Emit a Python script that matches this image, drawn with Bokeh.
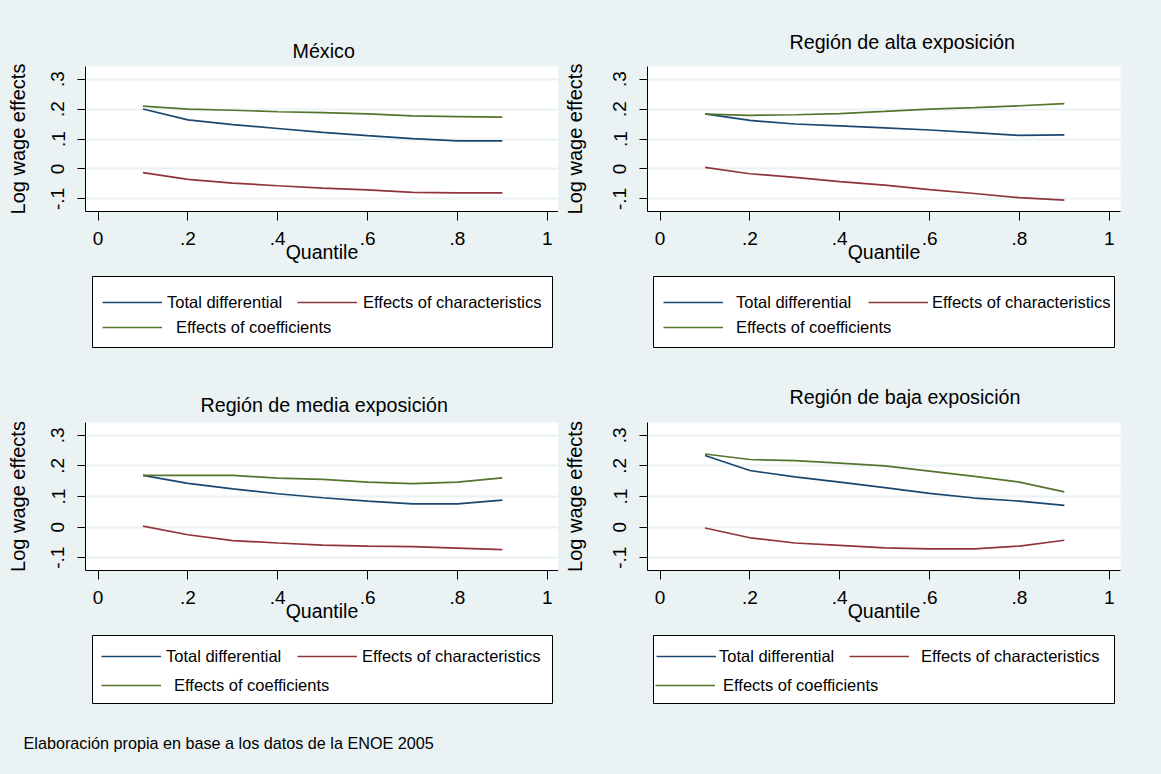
from bokeh.core.properties import value
from bokeh.embed import file_html
from bokeh.layouts import column, row
from bokeh.models import CustomJSTickFormatter, FixedTicker, Label, Legend, LegendItem, Range1d
from bokeh.plotting import figure
from bokeh.resources import INLINE

# Oaxaca-style quantile decomposition
quantiles = [0.1, 0.2, 0.3, 0.4, 0.5, 0.6, 0.7, 0.8, 0.9]

mexico_total = [0.200, 0.164, 0.148, 0.135, 0.122, 0.111, 0.101, 0.094, 0.094]
mexico_chars = [-0.012, -0.035, -0.047, -0.056, -0.064, -0.070, -0.078, -0.080, -0.080]
mexico_coefs = [0.210, 0.200, 0.196, 0.191, 0.188, 0.184, 0.177, 0.175, 0.173]

alta_total = [0.184, 0.162, 0.150, 0.144, 0.137, 0.130, 0.121, 0.112, 0.114]
alta_chars = [0.005, -0.016, -0.028, -0.042, -0.054, -0.069, -0.082, -0.096, -0.104]
alta_coefs = [0.183, 0.179, 0.181, 0.185, 0.192, 0.200, 0.205, 0.211, 0.218]

media_total = [0.169, 0.143, 0.125, 0.109, 0.096, 0.085, 0.076, 0.076, 0.088]
media_chars = [0.003, -0.025, -0.044, -0.052, -0.059, -0.062, -0.064, -0.069, -0.074]
media_coefs = [0.169, 0.169, 0.169, 0.160, 0.156, 0.147, 0.142, 0.147, 0.161]

baja_total = [0.234, 0.185, 0.164, 0.147, 0.129, 0.110, 0.095, 0.085, 0.071]
baja_chars = [-0.003, -0.035, -0.052, -0.060, -0.068, -0.071, -0.071, -0.062, -0.043]
baja_coefs = [0.239, 0.221, 0.217, 0.209, 0.200, 0.183, 0.166, 0.147, 0.115]

titles = ["México", "Región de alta exposición", "Región de media exposición", "Región de baja  exposición"]
series_labels = ["Total differential", "Effects of characteristics", "Effects of coefficients"]
x_ticks = [0, 0.2, 0.4, 0.6, 0.8, 1]
y_ticks = [-0.1, 0, 0.1, 0.2, 0.3]
footnote = "Elaboración propia en base a los datos de la ENOE 2005"

BG = "#eaf2f3"
COLORS = ["#1a476f", "#90353b", "#55752f"]
FONT = "Liberation Sans"

# stata style labels: .2 instead of 0.2
fmt_code = """
const s = (Math.round(tick * 10) / 10).toString();
return s.replace("0.", ".");
"""


def panel(title, series, width, height, borders, title_standoff, title_offset, ylabel_standoff):
    left, right, top, bottom = borders
    p = figure(width=width, height=height, title=title,
               x_range=Range1d(-0.028, 1.025), y_range=Range1d(-0.142, 0.342),
               min_border_left=left, min_border_right=right,
               min_border_top=top, min_border_bottom=bottom,
               output_backend="svg", toolbar_location=None)
    p.background_fill_color = "white"
    p.border_fill_color = BG
    p.outline_line_color = None

    p.title.align = "left"
    p.title.offset = title_offset
    p.title.standoff = title_standoff
    p.title.text_font = FONT
    p.title.text_font_size = "19.7px"
    p.title.text_font_style = "normal"
    p.title.text_color = "black"

    for ys, color in zip(series, COLORS):
        p.line(quantiles, ys, line_color=color, line_width=1.7)

    p.xgrid.visible = False
    p.ygrid.grid_line_color = BG
    p.ygrid.grid_line_width = 2

    for ax, ticks in ((p.xaxis[0], x_ticks), (p.yaxis[0], y_ticks)):
        ax.ticker = FixedTicker(ticks=ticks)
        ax.formatter = CustomJSTickFormatter(code=fmt_code)
        ax.axis_line_color = "black"
        ax.major_tick_line_color = "black"
        ax.major_tick_in = 0
        ax.minor_tick_line_color = None
        ax.major_label_text_font = FONT
        ax.major_label_text_color = "black"
        ax.major_label_text_font_size = "19px"
        ax.axis_label_text_font = FONT
        ax.axis_label_text_font_style = "normal"
        ax.axis_label_text_color = "black"

    p.xaxis.axis_label = "Quantile"
    p.xaxis.major_tick_out = 9
    p.xaxis.major_label_standoff = 11
    p.xaxis.axis_label_text_font_size = "19.5px"
    p.xaxis.axis_label_standoff = -7

    p.yaxis.axis_label = "Log wage effects"
    p.yaxis.major_tick_out = 8
    p.yaxis.major_label_orientation = "vertical"
    p.yaxis.major_label_standoff = 13
    p.yaxis.axis_label_text_font_size = "20px"
    p.yaxis.axis_label_standoff = ylabel_standoff
    return p


def legend_box(width, height, borders, series, items):
    left, right, top, bottom = borders
    # the frame is the legend's white box; the lines sit outside its ranges
    lf = figure(width=width, height=height, x_range=Range1d(10, 11), y_range=Range1d(10, 11),
                x_axis_type=None, y_axis_type=None,
                min_border_left=left, min_border_right=right,
                min_border_top=top, min_border_bottom=bottom,
                output_backend="svg", toolbar_location=None)
    lf.background_fill_color = "white"
    lf.border_fill_color = BG
    lf.outline_line_color = "black"
    lf.outline_line_width = 1
    for ys, label, color, (vx, vy, standoff) in zip(series, series_labels, COLORS, items):
        r = lf.line(quantiles, ys, line_color=color, line_width=1.7)
        lg = Legend(items=[LegendItem(label=value(label), renderers=[r])], location=(vx, vy),
                    glyph_width=60, glyph_height=20, label_height=20, label_standoff=standoff,
                    padding=0, margin=0, spacing=0,
                    border_line_color=None, background_fill_alpha=0,
                    label_text_font=FONT, label_text_font_size="16.5px", label_text_color="black")
        lf.add_layout(lg)
    return lf


mex = [mexico_total, mexico_chars, mexico_coefs]
alta = [alta_total, alta_chars, alta_coefs]
media = [media_total, media_chars, media_coefs]
baja = [baja_total, baja_chars, baja_coefs]

p_mex = panel(titles[0], mex, 558, 266, (85, 0, 66, 55), 9, 207, 20)
p_alta = panel(titles[1], alta, 603, 266, (89, 41, 66, 55), 28, 142, 25)
p_media = panel(titles[2], media, 558, 260, (85, 0, 56, 56), 13, 115, 20)
p_baja = panel(titles[3], baja, 603, 260, (89, 41, 56, 56), 30, 142, 25)

l_mex = legend_box(558, 100, (92, 6, 10, 19), mex, [(10, 35, 5), (205, 35, 6), (10, 10, 14)])
l_alta = legend_box(603, 100, (95, 47, 10, 19), alta, [(10, 35, 13), (215, 35, 4), (10, 10, 13)])
l_media = legend_box(558, 87, (92, 6, 9, 10), media, [(9, 37, 5), (205, 37, 5), (9, 8, 13)])
l_baja = legend_box(603, 87, (95, 47, 9, 10), baja, [(3, 37, 3), (196, 37, 12), (2, 8, 8)])

foot = figure(width=1161, height=61, x_range=Range1d(0, 1), y_range=Range1d(0, 1),
              x_axis_type=None, y_axis_type=None, min_border=0,
              output_backend="svg", toolbar_location=None)
foot.background_fill_color = BG
foot.border_fill_color = BG
foot.outline_line_color = None
foot.add_layout(Label(x=23, y=32, x_units="screen", y_units="screen", text=footnote,
                      text_baseline="middle", text_font=FONT, text_font_size="16.2px",
                      text_color="black"))

layout = column(row(p_mex, p_alta), row(l_mex, l_alta), row(p_media, p_baja),
                row(l_media, l_baja), foot, spacing=0, styles={"background-color": BG})

open("out.html", "w").write(file_html(layout, INLINE))
